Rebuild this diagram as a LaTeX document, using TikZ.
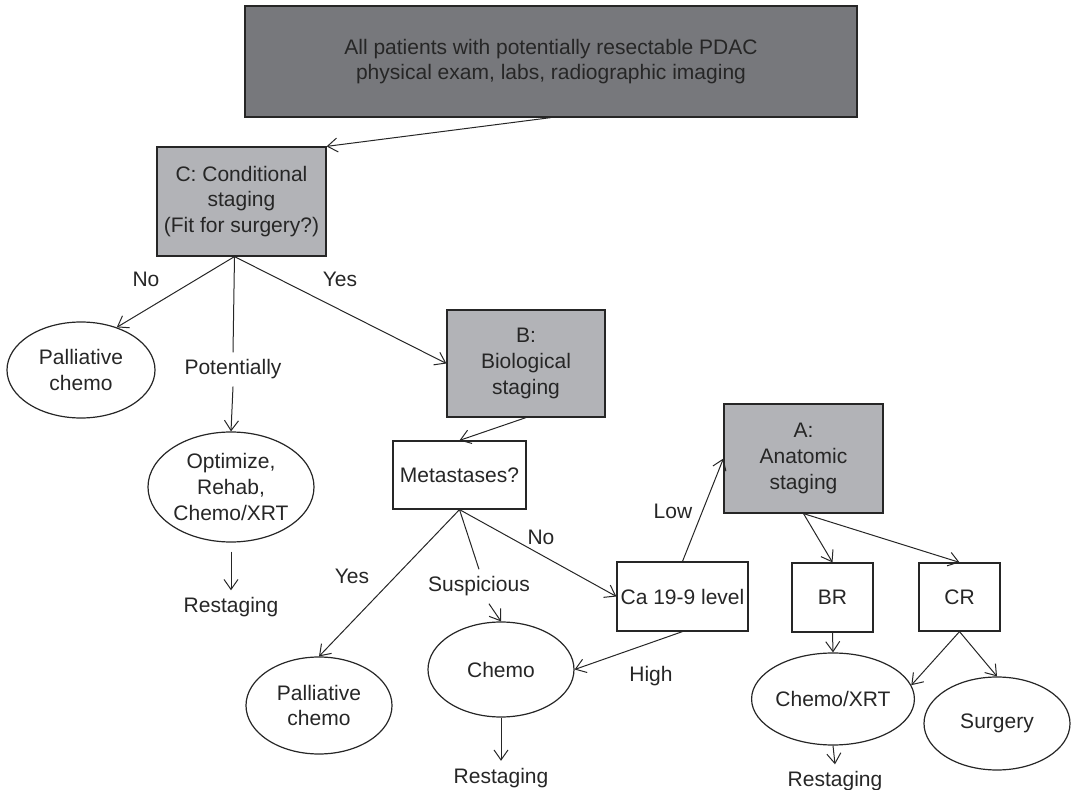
\documentclass[tikz,border=0pt]{standalone}
\usepackage{fontspec}
\setmainfont{Liberation Sans}
\usetikzlibrary{shapes.geometric, arrows.meta}

\definecolor{darkbox}{HTML}{77787C}
\definecolor{lightbox}{HTML}{B2B3B7}
\definecolor{ink}{HTML}{262626}

\begin{document}
\begin{tikzpicture}[
    x=0.5pt, y=-0.5pt,
    every node/.style={font=\fontsize{10.5}{12.8}\selectfont, text=ink, align=center},
    stage/.style={draw=ink, line width=0.6pt, fill=lightbox, inner sep=0pt},
    box/.style={draw=ink, line width=0.6pt, fill=white, inner sep=0pt},
    oval/.style={ellipse, draw=ink, line width=0.6pt, inner sep=0pt},
    lbl/.style={inner sep=3.5pt},
    arr/.style={draw=ink, line width=0.5pt, -{Straight Barb[length=5pt,width=7pt]}},
    ln/.style={draw=ink, line width=0.5pt}
  ]
  \useasboundingbox (0,0) rectangle (1071,790);

  \node[stage, fill=darkbox, minimum width=306pt, minimum height=55.5pt] (all) at (551,61.5)
    {All patients with potentially resectable PDAC\\physical exam, labs, radiographic imaging};
  \node[stage, minimum width=84.5pt, minimum height=54.5pt] (cond) at (241.5,201.5)
    {C: Conditional\\staging\\(Fit for surgery?)};
  \coordinate (cfork) at ([xshift=-3.5pt]cond.south);

  \node[oval, minimum width=74pt, minimum height=48pt] (pal1) at (81,370) {Palliative\\chemo};
  \node[lbl] (pot) at (233,369.5) {Potentially};
  \node[oval, minimum width=83pt, minimum height=55pt] (opt) at (231,487) {Optimize,\\Rehab,\\Chemo/XRT};
  \node[lbl] (rst1) at (231,607.5) {Restaging};

  \node[stage, minimum width=79pt, minimum height=53.5pt] (bio) at (526,363.5) {B:\\Biological\\staging};
  \node[box, minimum width=66.5pt, minimum height=34pt] (met) at (459.5,475) {Metastases?};
  \node[oval, minimum width=73pt, minimum height=48.5pt] (pal2) at (319,705.5) {Palliative\\chemo};
  \node[lbl] (susp) at (479,586.5) {Suspicious};
  \node[oval, minimum width=73pt, minimum height=47.5pt] (chemo) at (501,669.5) {Chemo};
  \node[lbl] (rst2) at (501,778) {Restaging};
  \node[box, minimum width=65.5pt, minimum height=34.5pt] (ca) at (682.5,596.5) {Ca 19-9 level};

  \node[stage, minimum width=79.5pt, minimum height=54.5pt] (anat) at (803.5,458.5) {A:\\Anatomic\\staging};
  \node[box, minimum width=40.5pt, minimum height=34.5pt] (br) at (832.5,597.5) {BR};
  \node[box, minimum width=40.5pt, minimum height=34pt] (cr) at (959.5,597) {CR};
  \node[oval, minimum width=73.5pt, minimum height=46pt] (cxrt) at (833,699) {Chemo/XRT};
  \node[oval, minimum width=73pt, minimum height=46.5pt] (surg) at (997,723.5) {Surgery};
  \node[lbl] (rst3) at (835,781.5) {Restaging};

  \node[lbl] (cno) at (146,279) {No};
  \node[lbl] (cyes) at (340,279) {Yes};
  \node[lbl] (myes) at (352,576) {Yes};
  \node[lbl] (mno) at (541,537) {No};
  \node[lbl] (low) at (673,511) {Low};
  \node[lbl] (high) at (651,676) {High};

  \draw[arr] (all.south) -- (cond.north east);
  \draw[arr] (cfork) -- (pal1.50);
  \draw[ln] (cfork) -- (pot.north);
  \draw[arr] (pot.south) -- (opt.north);
  \draw[arr, shorten <=4.5pt] (opt.south) -- (rst1.north);
  \draw[arr] (cfork) -- (bio.west);

  \draw[arr] (bio.south) -- (met.north);
  \draw[arr] (met.south) -- (pal2.north);
  \draw[ln] (met.south) -- (susp.north);
  \draw[arr] (susp.-60) -- (chemo.north);
  \draw[arr] (met.south) -- (ca.west);
  \draw[arr] (chemo.south) -- (rst2.north);
  \draw[arr] (ca.north) -- (anat.west);
  \draw[arr] (ca.south) -- (chemo.east);

  \draw[arr] (anat.south) -- (br.north);
  \draw[arr] (anat.south) -- (cr.north);
  \draw[arr] (br.south) -- (cxrt.north);
  \draw[arr] (cr.south) -- (cxrt.10);
  \draw[arr] (cr.south) -- (surg.north);
  \draw[arr] (cxrt.south) -- (rst3.north);
\end{tikzpicture}
\end{document}
